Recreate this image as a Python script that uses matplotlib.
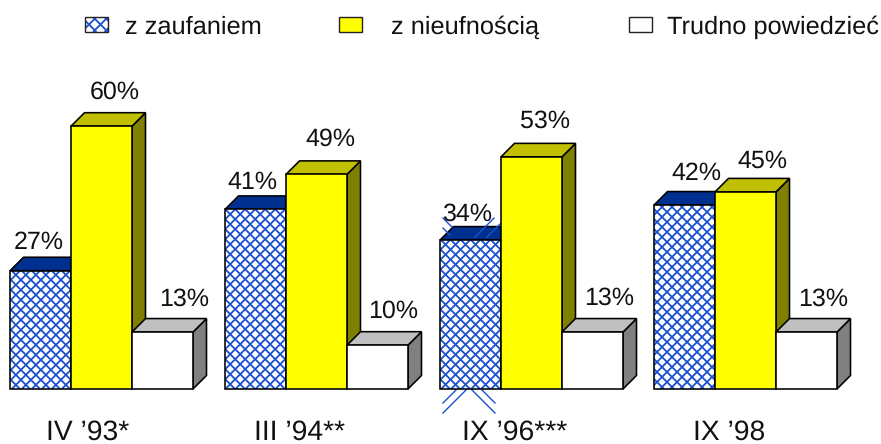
import matplotlib
matplotlib.use("Agg")
import matplotlib.pyplot as plt
import numpy as np
from matplotlib.collections import LineCollection
from matplotlib.patches import Polygon, Rectangle

plt.rcParams['font.family'] = ['Liberation Sans', 'DejaVu Sans']
plt.rcParams['text.hinting'] = 'none'

W, H = 881, 444

periods = ["IV ’93*", "III ’94**", "IX ’96***", "IX ’98"]
zaufanie = [27, 41, 34, 42]
nieufnosc = [60, 49, 53, 45]
trudno = [13, 10, 13, 13]
series_names = ["z zaufaniem", "z nieufnością", "Trudno powiedzieć"]

fronts = ["white", "#ffff00", "white"]
tops = ["#00308f", "#c0c000", "#c0c0c0"]
sides = ["#00308f", "#808000", "#808080"]
hatch_col = "#1a50d0"
text_col = "#111111"

group_left = [10, 225, 440, 654]
bar_w = 61
depth = 13.5
base_px = 389
px_per = 4.38

# label centres as offset from the bar centre, and gap above the top face
label_dx = [[-2, 13, 22], [-3, 14, 16], [-3, 14, 17], [12, 17, 17]]
label_gap = [[15, 20, 19], [14, 22, 20], [12, 22, 20], [18, 17, 19]]
period_x = [88, 300, 515, 729]


def yp(y_px):
    return (base_px - y_px) / px_per


def hatch(x0, x1, y0, y1, clip, step=10, z=3):
    # crossed 45 degree lines in pixel space, clipped to the bar front
    segs = []
    h = y1 - y0
    for c in np.arange(x0 - h - step, x1 + step, step):
        segs.append([(c, yp(y1)), (c + h, yp(y0))])
        segs.append([(c, yp(y0)), (c + h, yp(y1))])
    lc = LineCollection(segs, colors=hatch_col, linewidths=1.3, zorder=z)
    ax.add_collection(lc)
    lc.set_clip_path(clip)


fig = plt.figure(figsize=(W / 100, H / 100), dpi=100)
# axes fill the figure, x in pixels, y in percent
ax = fig.add_axes([0, 0, 1, 1])
ax.set_xlim(0, W)
ax.set_ylim(yp(H), yp(0))
ax.axis("off")

dy = depth / px_per
edge = dict(edgecolor="black", linewidth=1.15)

for g, vals in enumerate(zip(zaufanie, nieufnosc, trudno)):
    for s, v in enumerate(vals):
        x0 = group_left[g] + s * bar_w
        x1 = x0 + bar_w
        ax.add_patch(Polygon([(x1, 0), (x1 + depth, dy), (x1 + depth, v + dy), (x1, v)],
                             facecolor=sides[s], zorder=2 + s, **edge))
        ax.add_patch(Polygon([(x0, v), (x0 + depth, v + dy), (x1 + depth, v + dy), (x1, v)],
                             facecolor=tops[s], zorder=2 + s, **edge))
        bar = ax.bar(x0, v, bar_w, align="edge", color=fronts[s], linewidth=0, zorder=2 + s)[0]
        if s == 0:
            hatch(x0, x1, base_px - v * px_per, base_px, bar, z=2 + s)
        ax.bar(x0, v, bar_w, align="edge", fill=False, zorder=2.5 + s, **edge)
        ax.text(x0 + bar_w / 2 + label_dx[g][s], v + dy + label_gap[g][s] / px_per, f"{v}%",
                ha="center", va="center", fontsize=18, color=text_col, zorder=7)
    ax.text(period_x[g], yp(432), periods[g], ha="center", va="center",
            fontsize=20.3, color=text_col)

# stray hatch strokes around the third group's first bar
gx = group_left[2]
top34 = zaufanie[2]
for a, b in [((3, -14), (16, -1)), ((3, -24), (26, -1)), ((55, -14), (42, -1)), ((55, -24), (32, -1))]:
    ax.plot([gx + a[0], gx + b[0]], [a[1] / px_per, b[1] / px_per], color=hatch_col, lw=1.0, zorder=1)
for a, b in [((3, 22), (12, 13)), ((3, 12), (10, 5)), ((54, 22), (35, 3)), ((60, 16), (47, 3))]:
    ax.plot([gx + a[0], gx + b[0]], [top34 + a[1] / px_per, top34 + b[1] / px_per],
            color=hatch_col, lw=1.0, zorder=2.2)

# legend
swatch_x = [85, 339, 629]
label_x = [125, 391, 667]
for i, name in enumerate(series_names):
    sw = Rectangle((swatch_x[i], yp(32)), 23, 15 / px_per, facecolor=fronts[i], linewidth=0, zorder=3)
    ax.add_patch(sw)
    if i == 0:
        hatch(swatch_x[i], swatch_x[i] + 23, 17, 32, sw, step=11.5, z=3)
    ax.add_patch(Rectangle((swatch_x[i], yp(32)), 23, 15 / px_per, fill=False,
                           edgecolor="#222222", linewidth=1.0, zorder=4))
    ax.text(label_x[i], yp(27), name, ha="left", va="center", fontsize=18.3, color=text_col)

fig.savefig("out.png", dpi=100)
